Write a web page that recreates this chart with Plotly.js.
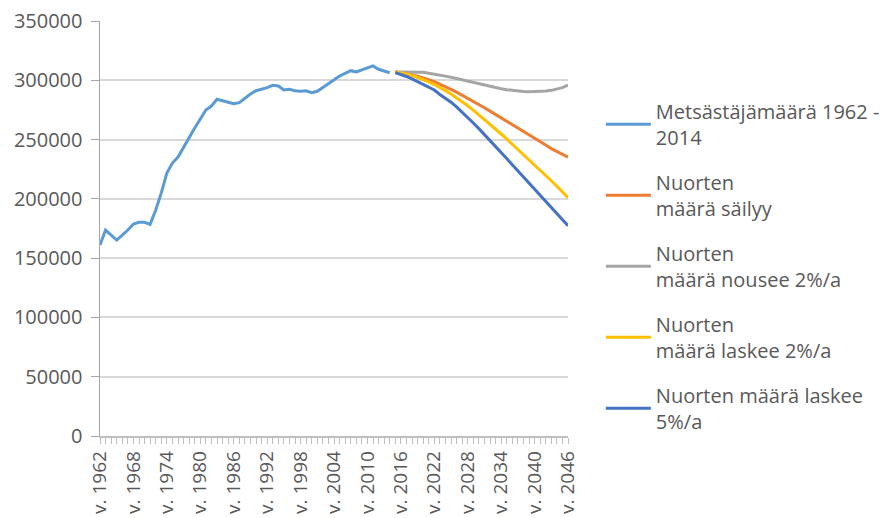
<!DOCTYPE html>
<html>
<head>
<meta charset="utf-8">
<script src="https://cdn.plot.ly/plotly-3.0.1.min.js"></script>
<style>html,body{margin:0;padding:0;background:#fff;}#chart{width:881px;height:518px;}</style>
</head>
<body>
<div id="chart"></div>
<script>
// ---- data ----
const histYears = [1962,1963,1964,1965,1966,1967,1968,1969,1970,1971,1972,1973,1974,1975,1976,1977,1978,1979,1980,1981,1982,1983,1984,1985,1986,1987,1988,1989,1990,1991,1992,1993,1994,1995,1996,1997,1998,1999,2000,2001,2002,2003,2004,2005,2006,2007,2008,2009,2010,2011,2012,2013,2014];
const histValues = [161000,173700,169500,165300,169500,173700,178800,180200,180200,178500,190600,205000,221800,230200,235300,243700,252200,259800,267400,275000,278300,284000,282800,281400,280300,281100,284800,288400,291200,292400,293800,295800,295200,291800,292400,291200,290700,291200,289500,290700,294100,297500,300800,303600,305900,308100,307000,308700,311000,312100,309300,308100,306400];

const projYears = [2015,2016,2017,2018,2019,2020,2021,2022,2023,2024,2025,2026,2027,2028,2029,2030,2031,2032,2033,2034,2035,2036,2037,2038,2039,2040,2041,2042,2043,2044,2045,2046];
const steady = [307000,306500,305800,304800,303600,302200,300600,298800,296800,294700,292400,290000,287500,285000,282300,279500,276800,274000,271200,268400,265600,262700,259800,257000,254100,251200,248300,245400,242400,239800,237200,235200];
const rise2 = [307000,307000,307000,307100,307000,306800,306000,305300,304400,303500,302500,301400,300500,299600,298600,297300,296000,294900,293800,292900,292100,291400,290900,290500,290300,290300,290500,290900,291500,292400,293800,296000];
const fall2 = [307000,306300,305300,304000,302400,300600,298600,296400,294000,291300,288400,285300,282000,278500,274800,270900,267000,263000,258900,254700,250500,246200,241900,237500,233100,228700,224300,219800,215300,210700,206000,201000];
const fall5 = [306500,305000,303200,301200,299000,296700,294300,291800,288000,285000,281500,277500,273200,268700,264000,259200,254300,249300,244200,239100,234000,228800,223600,218400,213200,208000,202800,197600,192400,187300,182200,177300];

const seriesNames = ["Metsästäjämäärä 1962 -<br>2014","Nuorten<br>määrä säilyy","Nuorten<br>määrä nousee 2%/a","Nuorten<br>määrä laskee 2%/a","Nuorten määrä laskee<br>5%/a"];

const axisYears = histYears.concat(projYears);
const labelYears = [1962,1968,1974,1980,1986,1992,1998,2004,2010,2016,2022,2028,2034,2040,2046];
const labelPrefix = "v. ";

// ---- chart ----
const colors = ["#5B9BD5","#ED7D31","#A5A5A5","#FFC000","#4472C4"];
const ys = [histValues, steady, rise2, fall2, fall5];
const xs = [histYears, projYears, projYears, projYears, projYears];
const traces = ys.map((y,i)=>({
  x: xs[i], y: y, type:'scatter', mode:'lines', name: seriesNames[i],
  legendgroup: 'g'+i,
  line:{color: colors[i], width: 3}
}));

const ticktext = axisYears.map(y => labelYears.includes(y) ? labelPrefix + y : "");

const fam = "Open Sans, sans-serif";
const layout = {
  width:881, height:518,
  margin:{l:100, r:313, t:21, b:82, autoexpand:false},
  paper_bgcolor:'#fff', plot_bgcolor:'#fff',
  font:{family:fam, size:20, color:"#595959"},
  showlegend:true,
  legend:{xref:'container', yref:'container', x:0.682, y:0.823, xanchor:'left', yanchor:'top',
          maxheight:1, itemwidth:45,
          font:{family:fam, size:20, color:"#595959"}, tracegroupgap:16, bgcolor:'rgba(0,0,0,0)'},
  xaxis:{
    type:'linear', range:[1962,2046], tickvals: axisYears, ticktext: ticktext,
    tickangle:-90, ticks:'outside', ticklen:6, tickcolor:'#BFBFBF', tickwidth:1,
    showline:true, linecolor:'#BFBFBF', linewidth:1.5, showgrid:false, zeroline:false,
    tickfont:{family:fam, size:19, color:"#595959"}
  },
  yaxis:{
    range:[0,350000], dtick:50000, tickformat:'d',
    ticks:'outside', ticklen:8, tickcolor:'#A6A6A6', ticklabelstandoff:4,
    showline:true, linecolor:'#A6A6A6', linewidth:1.5,
    gridcolor:'#D9D9D9', gridwidth:2, zeroline:false,
    tickfont:{family:fam, size:20, color:"#595959"}
  }
};
Plotly.newPlot('chart', traces, layout, {displayModeBar:false, staticPlot:true});
</script>
</body>
</html>
